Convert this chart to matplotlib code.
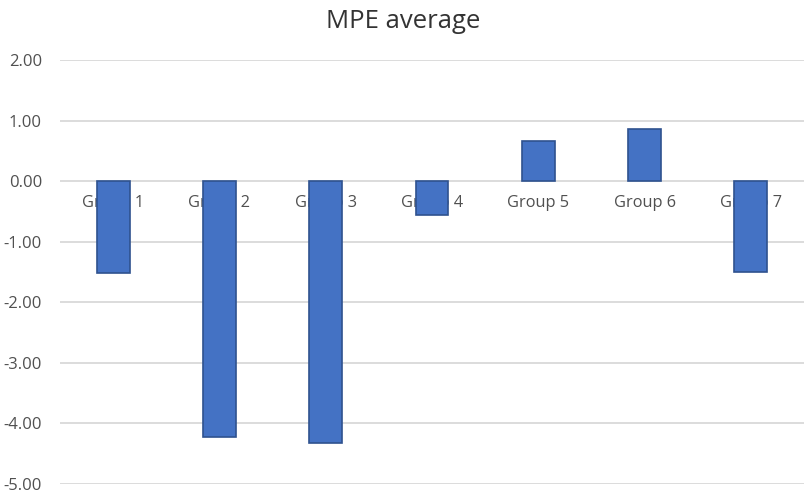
import matplotlib
matplotlib.use("Agg")
import matplotlib.pyplot as plt

categories = ["Group 1", "Group 2", "Group 3", "Group 4", "Group 5", "Group 6", "Group 7"]
mpe_values = [-1.52, -4.23, -4.33, -0.56, 0.66, 0.86, -1.50]
y_ticks = [2.0, 1.0, 0.0, -1.0, -2.0, -3.0, -4.0, -5.0]

plt.rcParams["font.family"] = ["Open Sans", "DejaVu Sans"]

fig = plt.figure(figsize=(8.07, 4.95), dpi=100)
ax = fig.add_axes([60 / 807, 1 - 484 / 495, 744 / 807, 424 / 495])

x = list(range(len(categories)))
ax.bar(x, mpe_values, width=0.31, color="#4472C4", edgecolor="#2F528F",
       linewidth=1.2, zorder=3)

ax.set_xlim(-0.5, len(categories) - 0.5)
ax.set_ylim(min(y_ticks), max(y_ticks))
ax.set_yticks(y_ticks)
ax.set_yticklabels([f"{v:.2f}" for v in y_ticks], color="#505050", fontsize=12)
ax.tick_params(axis="y", length=0, pad=13)
ax.set_xticks([])
ax.yaxis.grid(True, color="#d9d9d9", linewidth=1.3, zorder=0)
ax.set_axisbelow(True)
for s in ax.spines.values():
    s.set_visible(False)

# category labels sit just under the zero line, behind the bars
for xi, name in zip(x, categories):
    ax.text(xi, -0.36, name, ha="center", va="center", fontsize=11.8,
            color="#505050", zorder=2)

fig.text(0.5, 1 - 22 / 495, "MPE average", ha="center", va="center",
         fontsize=18.5, color="#333333")

fig.savefig("out.png", dpi=100)
